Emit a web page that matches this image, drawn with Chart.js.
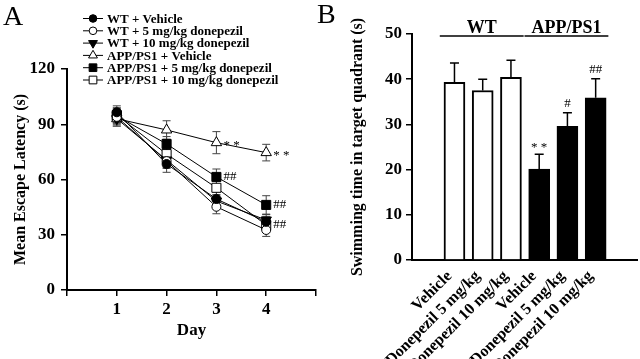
<!DOCTYPE html>
<html>
<head>
<meta charset="utf-8">
<script src="https://cdn.jsdelivr.net/npm/chart.js@4.4.1/dist/chart.umd.min.js"></script>
<style>
    body { margin: 0; background: #fff; }
    #chartA { position: absolute; left: 0; top: 0; }
    #chartB { position: absolute; left: 310px; top: 0; }
</style>
</head>
<body>
<canvas id="chartA" width="320" height="359"></canvas>
<canvas id="chartB" width="330" height="359"></canvas>
<script>
// Panel A - escape latency per day
const days = [1, 2, 3, 4];
const seriesLabels = [
    'WT + Vehicle',
    'WT + 5 mg/kg donepezil',
    'WT + 10 mg/kg donepezil',
    'APP/PS1 + Vehicle',
    'APP/PS1 + 5 mg/kg donepezil',
    'APP/PS1 + 10 mg/kg donepezil'
];
const wtVehicle = [96.5, 68.4, 49.4, 37];
const wt5 = [94, 70, 45.2, 32.6];
const wt10 = [93, 70.6, 48.3, 38];
const appVehicle = [93, 86.9, 80, 74.6];
const app5 = [94.5, 79.3, 61.4, 46.2];
const app10 = [95, 73.8, 55.5, 35.3];
const wtVehicleSem = [3.5, 4.5, 4, 3];
const wt5Sem = [4, 4, 3.8, 3.5];
const wt10Sem = [4, 4, 3.5, 3];
const appVehicleSem = [4, 5, 6, 4.5];
const app5Sem = [4, 4, 4.3, 5];
const app10Sem = [4, 4, 4, 3];
const appVehicleMarks = ['', '', '**', '**'];
const app5Marks = ['', '', '##', '##'];
const app10Marks = ['', '', '', '##'];
const latencyTicks = [0, 30, 60, 90, 120];

// Panel B - time in target quadrant
const treatments = ['Vehicle', 'Donepezil 5 mg/kg', 'Donepezil 10 mg/kg', 'Vehicle', 'Donepezil 5 mg/kg', 'Donepezil 10 mg/kg'];
const swimTime = [39.3, 37.5, 40.4, 20.1, 29.6, 35.9];
const swimSem = [4.3, 2.5, 3.8, 3.3, 3.0, 4.2];
const swimMarks = ['', '', '', '**', '#', '##'];
const groupNames = ['WT', 'APP/PS1'];
const groupOf = [0, 0, 0, 1, 1, 1];

const serif = 'Liberation Serif';
Chart.defaults.font.family = serif;
Chart.defaults.color = '#000';

const styleA = [
    { pointStyle: 'circle', fill: '#000', r: 4.5, rot: 0 },
    { pointStyle: 'circle', fill: '#fff', r: 4.5, rot: 0 },
    { pointStyle: 'triangle', fill: '#000', r: 6, rot: 180 },
    { pointStyle: 'triangle', fill: '#fff', r: 6, rot: 0 },
    { pointStyle: 'rect', fill: '#000', r: 6.4, rot: 0 },
    { pointStyle: 'rect', fill: '#fff', r: 6.4, rot: 0 }
];
const valuesA = [wtVehicle, wt5, wt10, appVehicle, app5, app10];
const semA = [wtVehicleSem, wt5Sem, wt10Sem, appVehicleSem, app5Sem, app10Sem];
const marksA = [null, null, null, appVehicleMarks, app5Marks, app10Marks];

// draw a marker by hand for the legend
function marker(ctx, st, x, y) {
    const r = st.r * 0.85;
    ctx.beginPath();
    if (st.pointStyle === 'circle') {
        ctx.arc(x, y, r, 0, Math.PI * 2);
    } else if (st.pointStyle === 'rect') {
        const s = r * Math.SQRT1_2;
        ctx.rect(x - s, y - s, 2 * s, 2 * s);
    } else {
        const d = st.rot ? -1 : 1;
        ctx.moveTo(x, y - d * r);
        ctx.lineTo(x + r * 0.87, y + d * r * 0.5);
        ctx.lineTo(x - r * 0.87, y + d * r * 0.5);
        ctx.closePath();
    }
    ctx.fillStyle = st.fill;
    ctx.fill();
    ctx.lineWidth = 1;
    ctx.strokeStyle = '#000';
    ctx.stroke();
}

const extrasA = {
    id: 'extrasA',
    beforeDatasetsDraw(chart) {
        const ctx = chart.ctx, xs = chart.scales.x, ys = chart.scales.y;
        ctx.save();
        ctx.strokeStyle = '#444';
        ctx.lineWidth = 1;
        valuesA.forEach((vals, s) => {
            vals.forEach((v, i) => {
                const x = xs.getPixelForValue(days[i]);
                const t = ys.getPixelForValue(v + semA[s][i]);
                const b = ys.getPixelForValue(v - semA[s][i]);
                ctx.beginPath();
                ctx.moveTo(x, t); ctx.lineTo(x, b);
                ctx.moveTo(x - 4, t); ctx.lineTo(x + 4, t);
                ctx.moveTo(x - 4, b); ctx.lineTo(x + 4, b);
                ctx.stroke();
            });
        });
        ctx.restore();
    },
    afterDraw(chart) {
        const ctx = chart.ctx, xs = chart.scales.x, ys = chart.scales.y;
        ctx.save();
        // significance marks
        ctx.font = '13px ' + serif;
        ctx.fillStyle = '#000';
        ctx.textBaseline = 'middle';
        ctx.textAlign = 'left';
        marksA.forEach((m, s) => {
            if (!m) return;
            m.forEach((txt, i) => {
                if (!txt) return;
                const x = xs.getPixelForValue(days[i]) + 7;
                const y = ys.getPixelForValue(valuesA[s][i]);
                ctx.fillText(txt === '**' ? '* *' : txt, x, txt === '**' ? y + 3 : y);
            });
        });
        // legend
        ctx.font = 'bold 13px ' + serif;
        seriesLabels.forEach((lab, i) => {
            const y = 18.5 + i * 12.3;
            ctx.beginPath();
            ctx.strokeStyle = '#000';
            ctx.lineWidth = 1;
            ctx.moveTo(83, y); ctx.lineTo(103, y);
            ctx.stroke();
            marker(ctx, styleA[i], 93, y);
            ctx.fillStyle = '#000';
            ctx.fillText(lab, 107, y + 1);
        });
        // panel letter
        ctx.font = '28px ' + serif;
        ctx.textBaseline = 'alphabetic';
        ctx.fillText('A', 3, 25);
        ctx.restore();
    }
};

new Chart(document.getElementById('chartA'), {
    type: 'line',
    data: {
        datasets: valuesA.map((vals, s) => ({
            label: seriesLabels[s],
            data: days.map((d, i) => ({ x: d, y: vals[i] })),
            borderColor: '#000',
            borderWidth: 1,
            pointStyle: styleA[s].pointStyle,
            pointRadius: styleA[s].r,
            pointRotation: styleA[s].rot,
            pointBackgroundColor: styleA[s].fill,
            pointBorderColor: '#000',
            pointBorderWidth: 1,
            fill: false
        }))
    },
    options: {
        responsive: false,
        animation: false,
        layout: { padding: { left: 0, right: 4, top: 69, bottom: 0 }, autoPadding: false },
        plugins: { legend: { display: false }, tooltip: { enabled: false } },
        scales: {
            x: {
                type: 'linear',
                min: 0,
                max: 5,
                ticks: {
                    stepSize: 1,
                    padding: 3,
                    font: { size: 17, weight: 'bold' },
                    callback: v => (v >= 1 && v <= 4 ? v : '')
                },
                grid: { drawOnChartArea: false, tickLength: 6, color: '#000', lineWidth: 1.5 },
                border: { color: '#000', width: 2 },
                title: { display: true, text: 'Day', font: { size: 17, weight: 'bold' }, padding: { top: 0, bottom: 18 } },
                afterFit: s => { s.height = 69; }
            },
            y: {
                min: 0,
                max: 120,
                afterBuildTicks: s => { s.ticks = latencyTicks.map(v => ({ value: v })); },
                ticks: { padding: 6, font: { size: 17, weight: 'bold' } },
                grid: { drawOnChartArea: false, tickLength: 6, color: '#000', lineWidth: 1.5 },
                border: { color: '#000', width: 2 },
                title: { display: true, text: 'Mean Escape Latency (s)', font: { size: 16, weight: 'bold' }, padding: { top: 11, bottom: 0 } },
                afterFit: s => { s.width = 67; }
            }
        }
    },
    plugins: [extrasA]
});

const extrasB = {
    id: 'extrasB',
    afterDatasetsDraw(chart) {
        const ctx = chart.ctx, xs = chart.scales.x, ys = chart.scales.y;
        ctx.save();
        ctx.strokeStyle = '#000';
        ctx.fillStyle = '#000';
        ctx.lineWidth = 1.5;
        // error bars (upper only)
        swimTime.forEach((v, i) => {
            const x = xs.getPixelForValue(i);
            const b = ys.getPixelForValue(v);
            const t = ys.getPixelForValue(v + swimSem[i]);
            ctx.beginPath();
            ctx.moveTo(x, b); ctx.lineTo(x, t);
            ctx.moveTo(x - 4.5, t); ctx.lineTo(x + 4.5, t);
            ctx.stroke();
            if (swimMarks[i]) {
                ctx.font = '13px ' + serif;
                ctx.textAlign = 'center';
                ctx.textBaseline = 'middle';
                const txt = swimMarks[i] === '**' ? '* *' : swimMarks[i];
                ctx.fillText(txt, x, t - (swimMarks[i] === '**' ? 7 : 9));
            }
        });
        // group headers
        groupNames.forEach((name, g) => {
            const idx = groupOf.map((v, i) => (v === g ? i : -1)).filter(i => i >= 0);
            const x0 = xs.getPixelForValue(idx[0] - 0.52);
            const x1 = xs.getPixelForValue(idx[idx.length - 1] + 0.45);
            const y = 36;
            ctx.lineWidth = 1.5;
            ctx.beginPath();
            ctx.moveTo(x0, y); ctx.lineTo(x1, y);
            ctx.stroke();
            ctx.font = 'bold 18px ' + serif;
            ctx.textAlign = 'center';
            ctx.textBaseline = 'alphabetic';
            ctx.fillText(name, (x0 + x1) / 2, 33);
        });
        ctx.font = '28px ' + serif;
        ctx.textAlign = 'left';
        ctx.fillText('B', 7, 23);
        ctx.restore();
    }
};

new Chart(document.getElementById('chartB'), {
    type: 'bar',
    data: {
        datasets: [{
            label: 'Swimming time',
            data: treatments.map((t, i) => ({ x: i, y: swimTime[i] })),
            backgroundColor: groupOf.map(g => (g === 0 ? '#fff' : '#000')),
            borderColor: '#000',
            borderWidth: 2,
            barThickness: 21
        }]
    },
    options: {
        responsive: false,
        animation: false,
        layout: { padding: { left: 0, right: 3, top: 34, bottom: 0 }, autoPadding: false },
        plugins: { legend: { display: false }, tooltip: { enabled: false } },
        scales: {
            x: {
                type: 'linear',
                min: -0.84,
                max: 5.8,
                afterBuildTicks: s => { s.ticks = treatments.map((t, i) => ({ value: i })); },
                ticks: {
                    autoSkip: false,
                    minRotation: 45,
                    maxRotation: 45,
                    padding: -1,
                    labelOffset: -5,
                    font: { size: 16, weight: 'bold' },
                    callback: (v, i) => treatments[i]
                },
                grid: { display: false },
                border: { color: '#000', width: 2 },
                afterFit: s => { s.height = 99; }
            },
            y: {
                min: 0,
                max: 50,
                ticks: { stepSize: 10, padding: 4, font: { size: 17, weight: 'bold' } },
                grid: { drawOnChartArea: false, tickLength: 6, color: '#000', lineWidth: 1.5 },
                border: { color: '#000', width: 2 },
                title: { display: true, text: 'Swimming time in target quadrant (s)', font: { size: 16, weight: 'bold' }, padding: { top: 38, bottom: 0 } },
                afterFit: s => { s.width = 102; }
            }
        }
    },
    plugins: [extrasB]
});
</script>
</body>
</html>
